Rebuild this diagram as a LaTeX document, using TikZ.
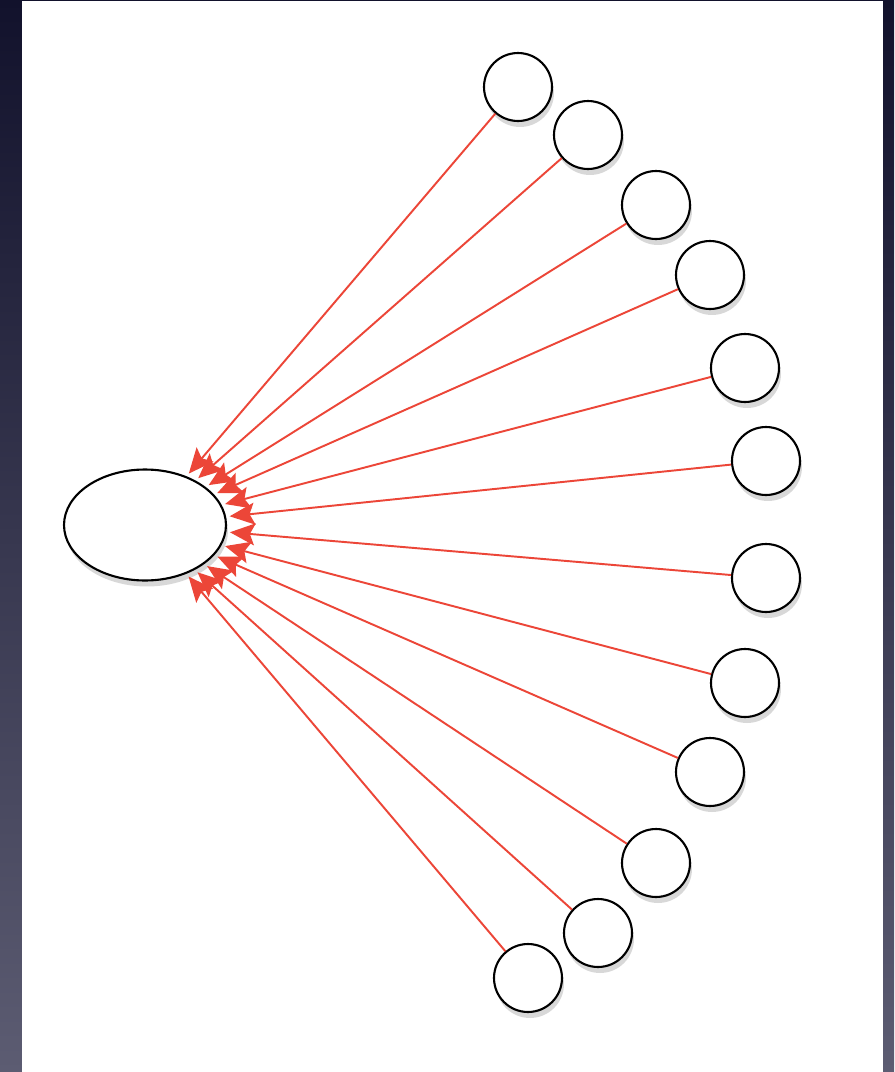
\documentclass[tikz,border=0pt]{standalone}
\usetikzlibrary{arrows.meta, shadows, shapes.geometric}

\definecolor{edgered}{RGB}{236,70,56}
\definecolor{bgtop}{RGB}{18,18,44}
\definecolor{bgbottom}{RGB}{92,92,114}

\begin{document}
\begin{tikzpicture}[
    x=0.02cm, y=-0.02cm,
    hub/.style={ellipse, draw=black, line width=1.2pt, fill=white, minimum width=3.24cm, minimum height=2.22cm, inner sep=0pt,
        drop shadow={shadow xshift=0.04cm, shadow yshift=-0.12cm, opacity=0.3}},
    leaf/.style={circle, draw=black, line width=1.2pt, fill=white, minimum size=1.36cm, inner sep=0pt,
        drop shadow={shadow xshift=0.04cm, shadow yshift=-0.12cm, opacity=0.3}},
    link/.style={-{Stealth[length=0.5cm, width=0.44cm, inset=0.1cm]}, draw=edgered, line width=1.1pt, shorten >=2pt}
]
    % Background and page
    \shade[top color=bgtop, bottom color=bgbottom] (0,0) rectangle (894,1072);
    \fill[white] (22,1) rectangle (883,1072);

    % Nodes
    \node[hub] (hub) at (145,525) {};

    \node[leaf] (c1) at (518,87) {};
    \node[leaf] (c2) at (588,135) {};
    \node[leaf] (c3) at (656,205) {};
    \node[leaf] (c4) at (710,275) {};
    \node[leaf] (c5) at (745,368) {};
    \node[leaf] (c6) at (766,461) {};
    \node[leaf] (c7) at (766,578) {};
    \node[leaf] (c8) at (745,683) {};
    \node[leaf] (c9) at (710,772) {};
    \node[leaf] (c10) at (656,863) {};
    \node[leaf] (c11) at (598,933) {};
    \node[leaf] (c12) at (528,978) {};

    % Links into the hub
    \foreach \i in {1,...,12}
        \draw[link] (c\i) -- (hub);

\end{tikzpicture}
\end{document}
